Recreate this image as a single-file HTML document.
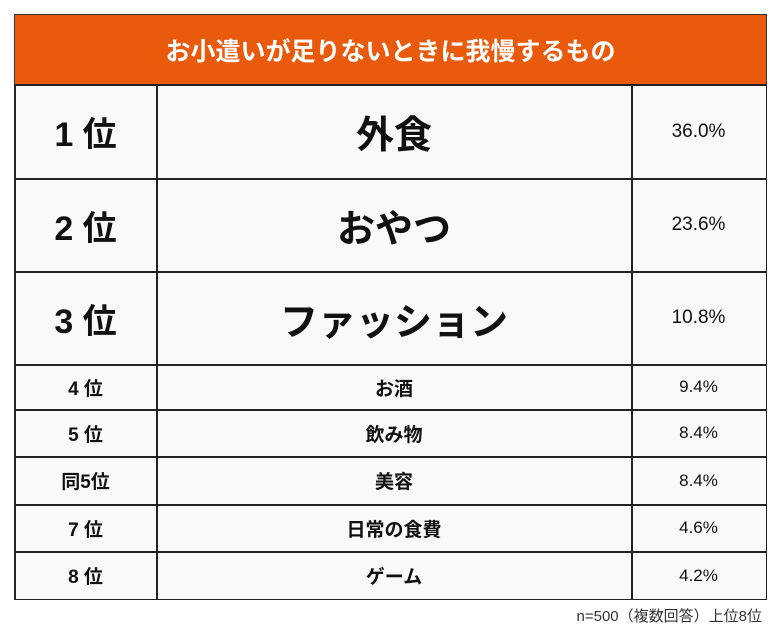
<!DOCTYPE html>
<html><head><meta charset="utf-8"><style>
body{margin:0;width:780px;height:630px;background:#fff;position:relative;font-family:"Liberation Sans","Noto Sans CJK JP",sans-serif;overflow:hidden}
.c{position:absolute;display:flex;align-items:center;justify-content:center;box-sizing:border-box;color:#111;background:#f9f9f9}
.hl{position:absolute;background:#222}
</style></head><body>
<div style="position:absolute;left:14px;top:14px;width:753px;height:586px;border:1.5px solid #333;box-sizing:border-box;background:#f9f9f9"></div>
<div class="c" style="left:14px;top:14px;width:753px;height:70px;background:#e95a0c;color:#fff;font-size:25px;font-weight:bold;border:1.5px solid #333;border-bottom:none">お小遣いが足りないときに我慢するもの</div>
<div id="rows"></div>
<div style="position:absolute;right:18px;top:605px;font-size:15px;color:#333">n=500（複数回答）上位8位</div>
<script>
const ranks=["1 位","2 位","3 位","4 位","5 位","同5位","7 位","8 位"];
const items=["外食","おやつ","ファッション","お酒","飲み物","美容","日常の食費","ゲーム"];
const pcts=["36.0%","23.6%","10.8%","9.4%","8.4%","8.4%","4.6%","4.2%"];
const rowY=[84,178,271,364,409,456,504,551,599];
const root=document.getElementById('rows');
for(let i=0;i<ranks.length;i++){
  const y=rowY[i],h=rowY[i+1]-rowY[i],big=i<3;
  const cols=[[14,142,ranks[i],big?34:19,'bold'],[156,475,items[i],big?38:19,'bold'],[631,134,pcts[i],big?19:17,'normal']];
  cols.forEach((c,j)=>{
    const d=document.createElement('div');
    d.className='c';
    
    
    d.style.cssText=`left:${c[0]+1}px;top:${y+1}px;width:${c[1]-1}px;height:${h-1}px;font-size:${c[3]}px;font-weight:${c[4]}`;
    d.textContent=c[2];
    root.appendChild(d);
  });
  const l=document.createElement('div');l.className='hl';
  
  
  l.style.cssText=`left:14px;top:${y}px;width:753px;height:1.5px`;
  root.appendChild(l);
}
[14,156,631,765.5].forEach(x=>{
  const v=document.createElement('div');v.className='hl';
  
  
  v.style.cssText=`left:${x}px;top:84px;width:1.5px;height:516px`;
  root.appendChild(v);
});
const b=document.createElement('div');b.className='hl';


b.style.cssText='left:14px;top:598.5px;width:753px;height:1.5px';
root.appendChild(b);
</script>
</body></html>
